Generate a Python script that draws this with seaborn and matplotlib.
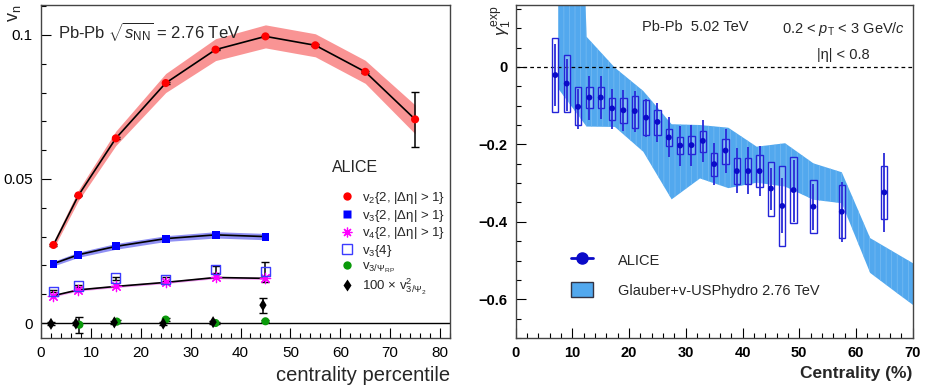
import numpy as np
import pandas as pd
import matplotlib
matplotlib.use("Agg")
import matplotlib.pyplot as plt
import seaborn as sns
from matplotlib.ticker import MultipleLocator
from matplotlib.patches import Rectangle, Patch
from matplotlib.lines import Line2D

# ---- left panel: vn vs centrality, Pb-Pb 2.76 TeV ----
cent_v2 = [2.5, 7.5, 15, 25, 35, 45, 55, 65, 75]
v2 = [0.0271, 0.0443, 0.0641, 0.0833, 0.0949, 0.0995, 0.0964, 0.0872, 0.0707]
v2_syst = [0.0012, 0.0018, 0.0025, 0.0033, 0.0038, 0.0040, 0.0040, 0.0040, 0.0050]
v2_stat = [0.0003, 0.0003, 0.0003, 0.0003, 0.0003, 0.0003, 0.0003, 0.0004, 0.0095]

cent_v3 = [2.5, 7.5, 15, 25, 35, 45]
v3 = [0.0206, 0.0237, 0.0266, 0.0293, 0.0306, 0.0300]
v3_syst = [0.0008, 0.0009, 0.0010, 0.0010, 0.0011, 0.0011]
v4 = [0.0095, 0.0115, 0.0127, 0.0141, 0.0158, 0.0155]
v4_syst = [0.0004, 0.0004, 0.0004, 0.0004, 0.0004, 0.0004]
v3_4 = [0.0110, 0.0129, 0.0156, 0.0152, 0.0185, 0.0178]
v3_4_err = [0.0004, 0.0004, 0.0005, 0.0006, 0.0012, 0.0035]

cent_rp = [7.7, 15.2, 25.0, 35.0, 45.0]
v3_rp = [-0.0006, 0.0005, 0.0012, 0.0000, 0.0006]
v3_rp_err = [0.0027, 0.0004, 0.0004, 0.0004, 0.0004]

cent_psi2 = [2.0, 7.0, 14.7, 24.5, 34.5, 44.5]
v3_psi2 = [-0.0003, -0.0002, 0.0002, -0.0002, 0.0003, 0.0062]
v3_psi2_err = [0.0005, 0.0005, 0.0005, 0.0005, 0.0005, 0.0026]

# ---- right panel: gamma_1^exp vs centrality, Pb-Pb 5.02 TeV ----
cent_g = [7, 9, 11, 13, 15, 17, 19, 21, 23, 25, 27, 29, 31, 33, 35, 37, 39, 41, 43,
          45, 47, 49, 52.5, 57.5, 65]
gamma = [-0.021, -0.043, -0.103, -0.079, -0.079, -0.107, -0.112, -0.114, -0.131, -0.142,
         -0.182, -0.203, -0.202, -0.191, -0.251, -0.216, -0.269, -0.269, -0.269,
         -0.314, -0.359, -0.318, -0.361, -0.374, -0.324]
syst_hi = [0.075, 0.032, -0.053, -0.053, -0.053, -0.080, -0.079, -0.074, -0.086, -0.110,
           -0.161, -0.182, -0.178, -0.165, -0.221, -0.185, -0.236, -0.236, -0.228,
           -0.245, -0.256, -0.233, -0.292, -0.306, -0.257]
syst_lo = [-0.117, -0.117, -0.151, -0.107, -0.107, -0.136, -0.144, -0.157, -0.177, -0.176,
           -0.204, -0.225, -0.226, -0.220, -0.281, -0.250, -0.303, -0.303, -0.310,
           -0.386, -0.462, -0.403, -0.429, -0.443, -0.394]
stat_hi = [0.058, 0.021, -0.056, -0.024, -0.024, -0.056, -0.060, -0.062, -0.084, -0.092,
           -0.130, -0.153, -0.149, -0.137, -0.197, -0.161, -0.210, -0.207, -0.204,
           -0.260, -0.288, -0.240, -0.303, -0.296, -0.221]
stat_lo = [-0.101, -0.114, -0.161, -0.136, -0.134, -0.161, -0.165, -0.167, -0.180, -0.195,
           -0.233, -0.255, -0.255, -0.246, -0.305, -0.275, -0.326, -0.329, -0.333,
           -0.370, -0.429, -0.400, -0.421, -0.452, -0.427]

hydro_x = [7.5, 12.5, 17.5, 22.5, 27.5, 32.5, 37.5, 42.5, 47.5, 52.5, 57.5, 62.5, 67.5, 72.5]
hydro_hi = [2.5, 0.078, -0.002, -0.062, -0.148, -0.150, -0.157, -0.206, -0.197, -0.249,
            -0.272, -0.442, -0.485, -0.528]
hydro_lo = [-0.056, -0.154, -0.155, -0.219, -0.342, -0.288, -0.313, -0.299, -0.309, -0.343,
            -0.352, -0.532, -0.587, -0.641]

sns.set_theme(style="ticks")
plt.rcParams["font.family"] = ["Liberation Sans", "DejaVu Sans"]
plt.rcParams["mathtext.fontset"] = "custom"
plt.rcParams["mathtext.rm"] = "Liberation Sans"
plt.rcParams["mathtext.it"] = "Liberation Sans:italic"
plt.rcParams["mathtext.bf"] = "Liberation Sans:bold"
plt.rcParams["hatch.linewidth"] = 0.5

fig = plt.figure(figsize=(9.34, 3.86), dpi=100)
ax1 = fig.add_axes([0.0439, 0.1244, 0.4379, 0.8627])
ax2 = fig.add_axes([0.5521, 0.1244, 0.4251, 0.8627])

for ax in (ax1, ax2):
    ax.tick_params(which="both", direction="in", top=False, right=False, colors="black")
    ax.tick_params(which="major", length=7, width=0.8)
    ax.tick_params(which="minor", length=3.5, width=0.8)
    for sp in ax.spines.values():
        sp.set_color("#444444")
        sp.set_linewidth(1.0)

# ---------------- left panel ----------------
df2 = pd.DataFrame({"c": cent_v2, "v": v2})
lo = np.array(v2) - np.array(v2_syst)
hi = np.array(v2) + np.array(v2_syst)
ax1.fill_between(cent_v2, lo, hi, color="#f99494", lw=0, zorder=1)
sns.lineplot(data=df2, x="c", y="v", color="black", lw=1.2, ax=ax1, zorder=2)
ax1.errorbar(cent_v2, v2, yerr=v2_stat, fmt="none", ecolor="black", elinewidth=1.1,
             capsize=3, zorder=3)
sns.scatterplot(data=df2, x="c", y="v", marker="o", s=34, color="#ff0000",
                edgecolor="none", ax=ax1, zorder=4)

df3 = pd.DataFrame({"c": cent_v3, "v3": v3, "v4": v4, "v34": v3_4})
ax1.fill_between(cent_v3, np.array(v3) - v3_syst, np.array(v3) + v3_syst,
                 color="#9090f4", lw=0, zorder=1)
sns.lineplot(data=df3, x="c", y="v3", color="black", lw=1.2, ax=ax1, zorder=2)
sns.scatterplot(data=df3, x="c", y="v3", marker="s", s=32, color="#0000ff",
                edgecolor="none", ax=ax1, zorder=4)

ax1.fill_between(cent_v3, np.array(v4) - v4_syst, np.array(v4) + v4_syst,
                 color="#f29ef2", lw=0, zorder=1)
sns.lineplot(data=df3, x="c", y="v4", color="black", lw=1.2, ax=ax1, zorder=2)
sns.scatterplot(data=df3, x="c", y="v4", marker=(8, 2, 0), s=55, color="#ff00ff",
                linewidth=0.9, ax=ax1, zorder=4)

ax1.errorbar(cent_v3, v3_4, yerr=v3_4_err, fmt="none", ecolor="black", elinewidth=1.1,
             capsize=3, zorder=3)
ax1.scatter(cent_v3, v3_4, marker="s", s=45, facecolors="none", edgecolors="#3c3cff",
            linewidths=1.0, zorder=5)

ax1.axhline(0, color="black", lw=1.0, zorder=1)
ax1.errorbar(cent_rp, v3_rp, yerr=v3_rp_err, fmt="none", ecolor="black", elinewidth=1.1,
             capsize=3, zorder=3)
sns.scatterplot(x=cent_rp, y=v3_rp, marker="o", s=34, color="#0a9a0a", edgecolor="none",
                ax=ax1, zorder=4)
ax1.errorbar(cent_psi2, v3_psi2, yerr=v3_psi2_err, fmt="none", ecolor="black",
             elinewidth=1.1, capsize=3, zorder=3)
sns.scatterplot(x=cent_psi2, y=v3_psi2, marker="d", s=38, color="black", edgecolor="none",
                ax=ax1, zorder=4)

ax1.set_xlim(0, 82)
ax1.set_ylim(-0.0052, 0.1104)
ax1.xaxis.set_major_locator(MultipleLocator(10))
ax1.xaxis.set_minor_locator(MultipleLocator(2))
ax1.set_yticks([0, 0.05, 0.1])
ax1.set_yticklabels(["0", "0.05", "0.1"])
ax1.yaxis.set_minor_locator(MultipleLocator(0.01))
ax1.tick_params(labelsize=11, pad=6)
ax1.set_xlabel("")
ax1.set_ylabel("")
fig.text(0.4818, 0.014, "centrality percentile", ha="right", va="baseline", fontsize=14.5)
fig.text(0.006, 0.988, "$\\mathrm{v}_{\\rm n}$", rotation=90, ha="left", va="top",
         fontsize=13)
ax1.text(0.042, 0.955, "Pb-Pb $\\sqrt{s_{\\rm NN}}$ = 2.76 TeV", transform=ax1.transAxes,
         ha="left", va="top", fontsize=12)
ax1.text(0.712, 0.513, "ALICE", transform=ax1.transAxes, ha="left", va="center",
         fontsize=11.5)

h1 = [
    Line2D([], [], ls="none", marker="o", ms=6, color="#ff0000", mec="none"),
    Line2D([], [], ls="none", marker="s", ms=5.5, color="#0000ff", mec="none"),
    Line2D([], [], ls="none", marker=(8, 2, 0), ms=7, color="#ff00ff", mew=0.9),
    Line2D([], [], ls="none", marker="s", ms=6.5, mfc="none", mec="#3c3cff", mew=1.0),
    Line2D([], [], ls="none", marker="o", ms=6, color="#0a9a0a", mec="none"),
    Line2D([], [], ls="none", marker="d", ms=6.5, color="black", mec="none"),
]
l1 = [
    "$\\mathrm{v}_2${2, |Δη| > 1}",
    "$\\mathrm{v}_3${2, |Δη| > 1}",
    "$\\mathrm{v}_4${2, |Δη| > 1}",
    "$\\mathrm{v}_3${4}",
    "$\\mathrm{v}_{3/\\Psi_{\\rm RP}}$",
    "100 × $\\mathrm{v}^2_{3/\\Psi_2}$",
]
ax1.legend(h1, l1, loc="upper left", bbox_to_anchor=(0.72, 0.46), frameon=False,
           fontsize=9.5, handlelength=1.0, handletextpad=0.6, labelspacing=0.12,
           borderaxespad=0)

# ---------------- right panel ----------------
ax2.fill_between(hydro_x, hydro_lo, hydro_hi, facecolor="#52a8ee", edgecolor="#78bcf2",
                 hatch="|||", lw=0, zorder=1)
ax2.axhline(0, color="black", lw=0.9, ls=(0, (3, 2.5)), zorder=2)

for c, lo_, hi_ in zip(cent_g, syst_lo, syst_hi):
    ax2.add_patch(Rectangle((c - 0.55, lo_), 1.1, hi_ - lo_, facecolor=(1, 1, 1, 0.25),
                            edgecolor="#2424d8", lw=1.0, zorder=3))
ax2.vlines(cent_g, stat_lo, stat_hi, color="#2a2ad8", lw=1.3, zorder=4)
dfg = pd.DataFrame({"c": cent_g, "g": gamma})
sns.scatterplot(data=dfg, x="c", y="g", marker="o", s=18, color="#0a0ac8", edgecolor="none",
                ax=ax2, zorder=5)

ax2.set_xlim(0, 70)
ax2.set_ylim(-0.70, 0.16)
ax2.xaxis.set_major_locator(MultipleLocator(10))
ax2.xaxis.set_minor_locator(MultipleLocator(2))
ax2.set_yticks([-0.6, -0.4, -0.2, 0])
ax2.set_yticklabels(["−0.6", "−0.4", "−0.2", "0"])
ax2.yaxis.set_minor_locator(MultipleLocator(0.05))
ax2.tick_params(labelsize=10.5, pad=6)
for lab in ax2.get_xticklabels() + ax2.get_yticklabels():
    lab.set_fontweight("bold")
ax2.set_xlabel("")
ax2.set_ylabel("")
fig.text(0.9772, 0.022, "Centrality (%)", ha="right", va="baseline", fontsize=12.5,
         fontweight="bold")
fig.text(0.524, 0.985, "$\\gamma_1^{\\rm exp}$", rotation=90, ha="left", va="top",
         fontsize=12.5)
ax2.text(0.318, 0.955, "Pb-Pb  5.02 TeV", transform=ax2.transAxes, ha="left", va="top",
         fontsize=10.5)
ax2.text(0.98, 0.955, "0.2 < $p_{\\rm T}$ < 3 GeV/$c$", transform=ax2.transAxes,
         ha="right", va="top", fontsize=10.5)
ax2.text(0.76, 0.87, "|η| < 0.8", transform=ax2.transAxes, ha="left", va="top",
         fontsize=10.5)

h2 = [
    Line2D([], [], color="#0a0ac8", lw=2, marker="o", ms=8),
    Patch(facecolor="#52a8ee", edgecolor="#333344", lw=1),
]
l2 = ["ALICE", "Glauber+v-USPhydro 2.76 TeV"]
ax2.legend(h2, l2, loc="upper left", bbox_to_anchor=(0.125, 0.275), frameon=False,
           fontsize=10.5, handlelength=1.5, handleheight=1.2, handletextpad=1.7,
           labelspacing=1.0, borderaxespad=0)

fig.savefig("out.png", dpi=100)
